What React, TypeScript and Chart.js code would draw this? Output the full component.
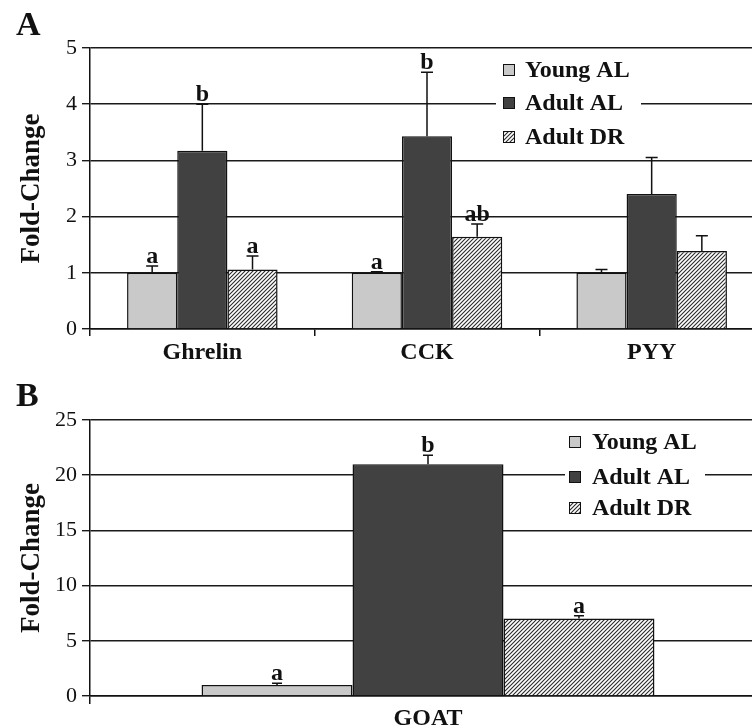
import React, { useEffect, useRef } from "react";
import { Chart, registerables } from "chart.js";

Chart.register(...registerables);

// ---------- Data ----------
const seriesLabels = ["Young AL", "Adult AL", "Adult DR"];

// Panel A
const categoriesA = ["Ghrelin", "CCK", "PYY"];
const youngA = [1.0, 1.0, 1.0];
const youngAErr = [0.12, 0.02, 0.06];
const youngALetters = ["a", "a", ""];
const adultALA = [3.17, 3.43, 2.4];
const adultALAErr = [0.83, 1.14, 0.65];
const adultALALetters = ["b", "b", ""];
const adultDRA = [1.06, 1.64, 1.39];
const adultDRAErr = [0.24, 0.23, 0.27];
const adultDRALetters = ["a", "ab", ""];
const yTicksA = { min: 0, max: 5, step: 1 };

// Panel B
const categoriesB = ["GOAT"];
const youngB = [1.0];
const youngBErr = [0.15];
const youngBLetters = ["a"];
const adultALB = [21.0];
const adultALBErr = [0.8];
const adultALBLetters = ["b"];
const adultDRB = [7.03];
const adultDRBErr = [0.24];
const adultDRBLetters = ["a"];
const yTicksB = { min: 0, max: 25, step: 5 };

const FONT = '"Liberation Serif", "Times New Roman", serif';
const LIGHT = "#c9c9c9";
const DARK = "#414141";
const INK = "#111111";

function makeHatch(ctx: CanvasRenderingContext2D): CanvasPattern | string {
  const s = 4;
  const c = document.createElement("canvas");
  c.width = s;
  c.height = s;
  const g = c.getContext("2d");
  if (!g) return "#ddd";
  g.fillStyle = "#ffffff";
  g.fillRect(0, 0, s, s);
  g.strokeStyle = "#2a2a2a";
  g.lineWidth = 1.1;
  g.beginPath();
  g.moveTo(0, s);
  g.lineTo(s, 0);
  g.moveTo(-1, 1);
  g.lineTo(1, -1);
  g.moveTo(s - 1, s + 1);
  g.lineTo(s + 1, s - 1);
  g.stroke();
  return ctx.createPattern(c, "repeat") || "#ddd";
}

const errorBarPlugin = {
  id: "errorBars",
  afterDatasetsDraw(chart: any, _args: any, opts: any) {
    const ctx: CanvasRenderingContext2D = chart.ctx;
    const yScale = chart.scales.y;
    const cap = opts.cap ?? 11;
    chart.data.datasets.forEach((ds: any, di: number) => {
      const meta = chart.getDatasetMeta(di);
      meta.data.forEach((bar: any, i: number) => {
        const v = ds.data[i];
        const e = ds.errors ? ds.errors[i] : 0;
        const yBar = yScale.getPixelForValue(v);
        const yTop = yScale.getPixelForValue(v + e);
        ctx.save();
        ctx.strokeStyle = INK;
        ctx.lineWidth = 1.5;
        if (e > 0) {
          ctx.beginPath();
          ctx.moveTo(bar.x, yBar);
          ctx.lineTo(bar.x, yTop);
          ctx.moveTo(bar.x - cap / 2, yTop);
          ctx.lineTo(bar.x + cap / 2, yTop);
          ctx.stroke();
        }
        const letter = ds.letters ? ds.letters[i] : "";
        if (letter) {
          ctx.fillStyle = INK;
          ctx.font = `bold 24px ${FONT}`;
          ctx.textAlign = "center";
          ctx.textBaseline = "alphabetic";
          ctx.fillText(letter, bar.x, yTop - 3);
        }
        ctx.restore();
      });
    });
  },
};

const boxLegendPlugin = {
  id: "boxLegend",
  afterDraw(chart: any, _args: any, opts: any) {
    const ctx: CanvasRenderingContext2D = chart.ctx;
    ctx.save();
    ctx.fillStyle = "#ffffff";
    ctx.fillRect(opts.x, opts.y, opts.width, opts.height);
    chart.data.datasets.forEach((ds: any, i: number) => {
      const cy = opts.rows[i];
      ctx.fillStyle = ds.backgroundColor;
      ctx.fillRect(opts.markerX, cy - 6, 12, 12);
      ctx.strokeStyle = INK;
      ctx.lineWidth = 1;
      ctx.strokeRect(opts.markerX + 0.5, cy - 5.5, 11, 11);
      ctx.fillStyle = INK;
      ctx.font = `bold 24px ${FONT}`;
      ctx.textAlign = "left";
      ctx.textBaseline = "middle";
      ctx.fillText(ds.label, opts.textX, cy + 1);
    });
    ctx.restore();
  },
};

const panelLabelPlugin = {
  id: "panelLabel",
  afterDraw(chart: any, _args: any, opts: any) {
    const ctx: CanvasRenderingContext2D = chart.ctx;
    ctx.save();
    ctx.fillStyle = INK;
    ctx.font = `bold 34px ${FONT}`;
    ctx.textAlign = "left";
    ctx.textBaseline = "alphabetic";
    ctx.fillText(opts.text, opts.x, opts.y);
    ctx.restore();
  },
};

function makeConfig(p: {
  ctx: CanvasRenderingContext2D;
  categories: string[];
  series: { data: number[]; errors: number[]; letters: string[] }[];
  yTicks: { min: number; max: number; step: number };
  padTop: number;
  xHeight: number;
  xTickPad: number;
  xTickLen: number;
  legend: any;
  panel: any;
  cap: number;
}): any {
  const colors = [LIGHT, DARK, makeHatch(p.ctx)];
  return {
    type: "bar",
    data: {
      labels: p.categories,
      datasets: p.series.map((s, i) => ({
        label: seriesLabels[i],
        data: s.data,
        errors: s.errors,
        letters: s.letters,
        backgroundColor: colors[i],
        borderColor: INK,
        borderWidth: 1.5,
        categoryPercentage: 0.67,
        barPercentage: 1.0,
      })),
    },
    options: {
      responsive: false,
      animation: false,
      devicePixelRatio: 1,
      layout: { padding: { top: p.padTop, left: 0, right: 0, bottom: 0 } },
      plugins: {
        legend: { display: false },
        tooltip: { enabled: false },
        title: { display: false },
        errorBars: { cap: p.cap },
        boxLegend: p.legend,
        panelLabel: p.panel,
      },
      scales: {
        x: {
          type: "category",
          offset: true,
          grid: {
            display: true,
            drawOnChartArea: false,
            drawTicks: true,
            tickLength: p.xTickLen,
            color: INK,
            lineWidth: 1.5,
            offset: true,
          },
          border: { display: true, color: INK, width: 1.5 },
          ticks: {
            color: INK,
            padding: p.xTickPad,
            font: { family: FONT, size: 24, weight: "bold" },
          },
          afterFit: (scale: any) => {
            scale.height = p.xHeight;
          },
        },
        y: {
          min: p.yTicks.min,
          max: p.yTicks.max,
          ticks: {
            stepSize: p.yTicks.step,
            color: INK,
            padding: 5,
            font: { family: FONT, size: 22 },
          },
          grid: {
            color: "#1a1a1a",
            lineWidth: 1.4,
            drawTicks: true,
            tickLength: 8,
          },
          border: { display: true, color: INK, width: 1.5 },
          title: {
            display: true,
            text: "Fold-Change",
            color: INK,
            padding: { top: 16, bottom: 0 },
            font: { family: FONT, size: 27, weight: "bold" },
          },
          afterFit: (scale: any) => {
            scale.width = 90;
          },
        },
      },
    },
    plugins: [errorBarPlugin, boxLegendPlugin, panelLabelPlugin],
  };
}

export default function App() {
  const refA = useRef<HTMLCanvasElement>(null);
  const refB = useRef<HTMLCanvasElement>(null);

  useEffect(() => {
    if (!refA.current || !refB.current) return;
    const ctxA = refA.current.getContext("2d")!;
    const ctxB = refB.current.getContext("2d")!;
    const chartA = new Chart(
      refA.current,
      makeConfig({
        ctx: ctxA,
        categories: categoriesA,
        series: [
          { data: youngA, errors: youngAErr, letters: youngALetters },
          { data: adultALA, errors: adultALAErr, letters: adultALALetters },
          { data: adultDRA, errors: adultDRAErr, letters: adultDRALetters },
        ],
        yTicks: yTicksA,
        padTop: 48,
        xHeight: 35,
        xTickPad: 2,
        xTickLen: 7,
        cap: 12,
        legend: { x: 496, y: 53, width: 145, height: 100, rows: [70, 103, 137], markerX: 503, textX: 525 },
        panel: { text: "A", x: 16, y: 35 },
      })
    );
    const chartB = new Chart(
      refB.current,
      makeConfig({
        ctx: ctxB,
        categories: categoriesB,
        series: [
          { data: youngB, errors: youngBErr, letters: youngBLetters },
          { data: adultALB, errors: adultALBErr, letters: adultALBLetters },
          { data: adultDRB, errors: adultDRBErr, letters: adultDRBLetters },
        ],
        yTicks: yTicksB,
        padTop: 56,
        xHeight: 32,
        xTickPad: 0,
        xTickLen: 8,
        cap: 10,
        legend: { x: 565, y: 60, width: 140, height: 100, rows: [78, 113, 144], markerX: 569, textX: 592 },
        panel: { text: "B", x: 16, y: 42 },
      })
    );
    return () => {
      chartA.destroy();
      chartB.destroy();
    };
  }, []);

  return (
    <div
      style={{
        position: "absolute",
        left: 0,
        top: 0,
        width: 752,
        height: 728,
        overflow: "hidden",
        background: "#ffffff",
      }}
    >
      <canvas ref={refA} width={764} height={364} style={{ position: "absolute", left: 0, top: 0, display: "block" }} />
      <canvas ref={refB} width={766} height={364} style={{ position: "absolute", left: 0, top: 364, display: "block" }} />
    </div>
  );
}
